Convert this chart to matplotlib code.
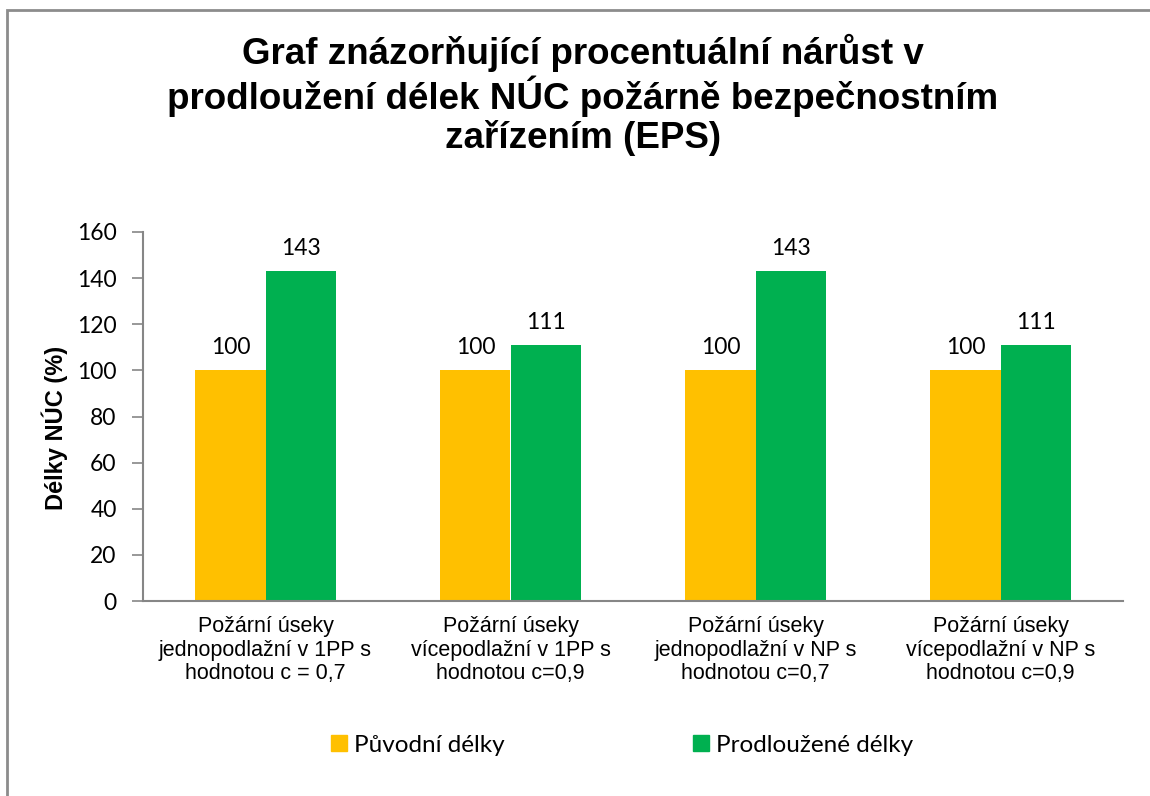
import matplotlib
matplotlib.use("Agg")
import matplotlib.pyplot as plt
from matplotlib.patches import Patch, Rectangle
import numpy as np

categories = [
    "Požární úseky\njednopodlažní v 1PP s\nhodnotou c = 0,7",
    "Požární úseky\nvícepodlažní v 1PP s\nhodnotou c=0,9",
    "Požární úseky\njednopodlažní v NP s\nhodnotou c=0,7",
    "Požární úseky\nvícepodlažní v NP s\nhodnotou c=0,9",
]
puvodni = [100, 100, 100, 100]
prodlouzene = [143, 111, 143, 111]
series_names = ["Původní délky", "Prodloužené délky"]
yticks = [0, 20, 40, 60, 80, 100, 120, 140, 160]

yellow = "#FFC000"
green = "#00B050"
axis_grey = "#868686"

fig = plt.figure(figsize=(11.5, 7.96), dpi=100)
ax = fig.add_axes([143 / 1150, 1 - 601 / 796, 980 / 1150, (601 - 232) / 796])

x = np.arange(len(categories))
w = 0.286
b1 = ax.bar(x - w / 2, puvodni, w, color=yellow)
b2 = ax.bar(x + w / 2, prodlouzene, w, color=green)

for bars in (b1, b2):
    ax.bar_label(bars, padding=9, fontsize=16.5, family="Lato", color="#000000")

ax.set_xlim(-0.5, len(categories) - 0.5)
ax.set_ylim(0, 160)
ax.set_yticks(yticks)
ax.set_yticklabels([str(t) for t in yticks], family="Lato", fontsize=16.5)
ax.set_xticks(x)
ax.set_xticklabels(categories, family="Liberation Sans", fontsize=15.5, linespacing=1.15)
ax.tick_params(axis="x", length=0, pad=11)
ax.tick_params(axis="y", length=8, width=1.2, color=axis_grey, pad=11)

for side in ("top", "right"):
    ax.spines[side].set_visible(False)
for side in ("left", "bottom"):
    ax.spines[side].set_color(axis_grey)
    ax.spines[side].set_linewidth(1.5)

fig.text(55 / 1150, 1 - 428 / 796, "Délky NÚC (%)", rotation=90, ha="center", va="center",
         family="Liberation Sans", fontweight="bold", fontsize=17)

fig.text(583 / 1150, 1 - 95 / 796,
         "Graf znázorňující procentuální nárůst v\nprodloužení délek NÚC požárně bezpečnostním\nzařízením (EPS)",
         ha="center", va="center", family="Liberation Sans", fontweight="bold", fontsize=26.5,
         linespacing=1.1)

handles = [Patch(color=yellow), Patch(color=green)]
fig.legend(handles, series_names, loc="center", bbox_to_anchor=(622 / 1150, 1 - 745 / 796),
           ncol=2, frameon=False, prop={"family": "Lato", "size": 17.5},
           handlelength=0.65, handleheight=0.65, handletextpad=0.3, columnspacing=7.75)

fig.add_artist(Rectangle((7 / 1150, -0.05), 1.2, 1 - 10 / 796 + 0.05, transform=fig.transFigure,
                         fill=False, edgecolor="#8c8c8c", linewidth=2))

fig.savefig("out.png", dpi=100)
